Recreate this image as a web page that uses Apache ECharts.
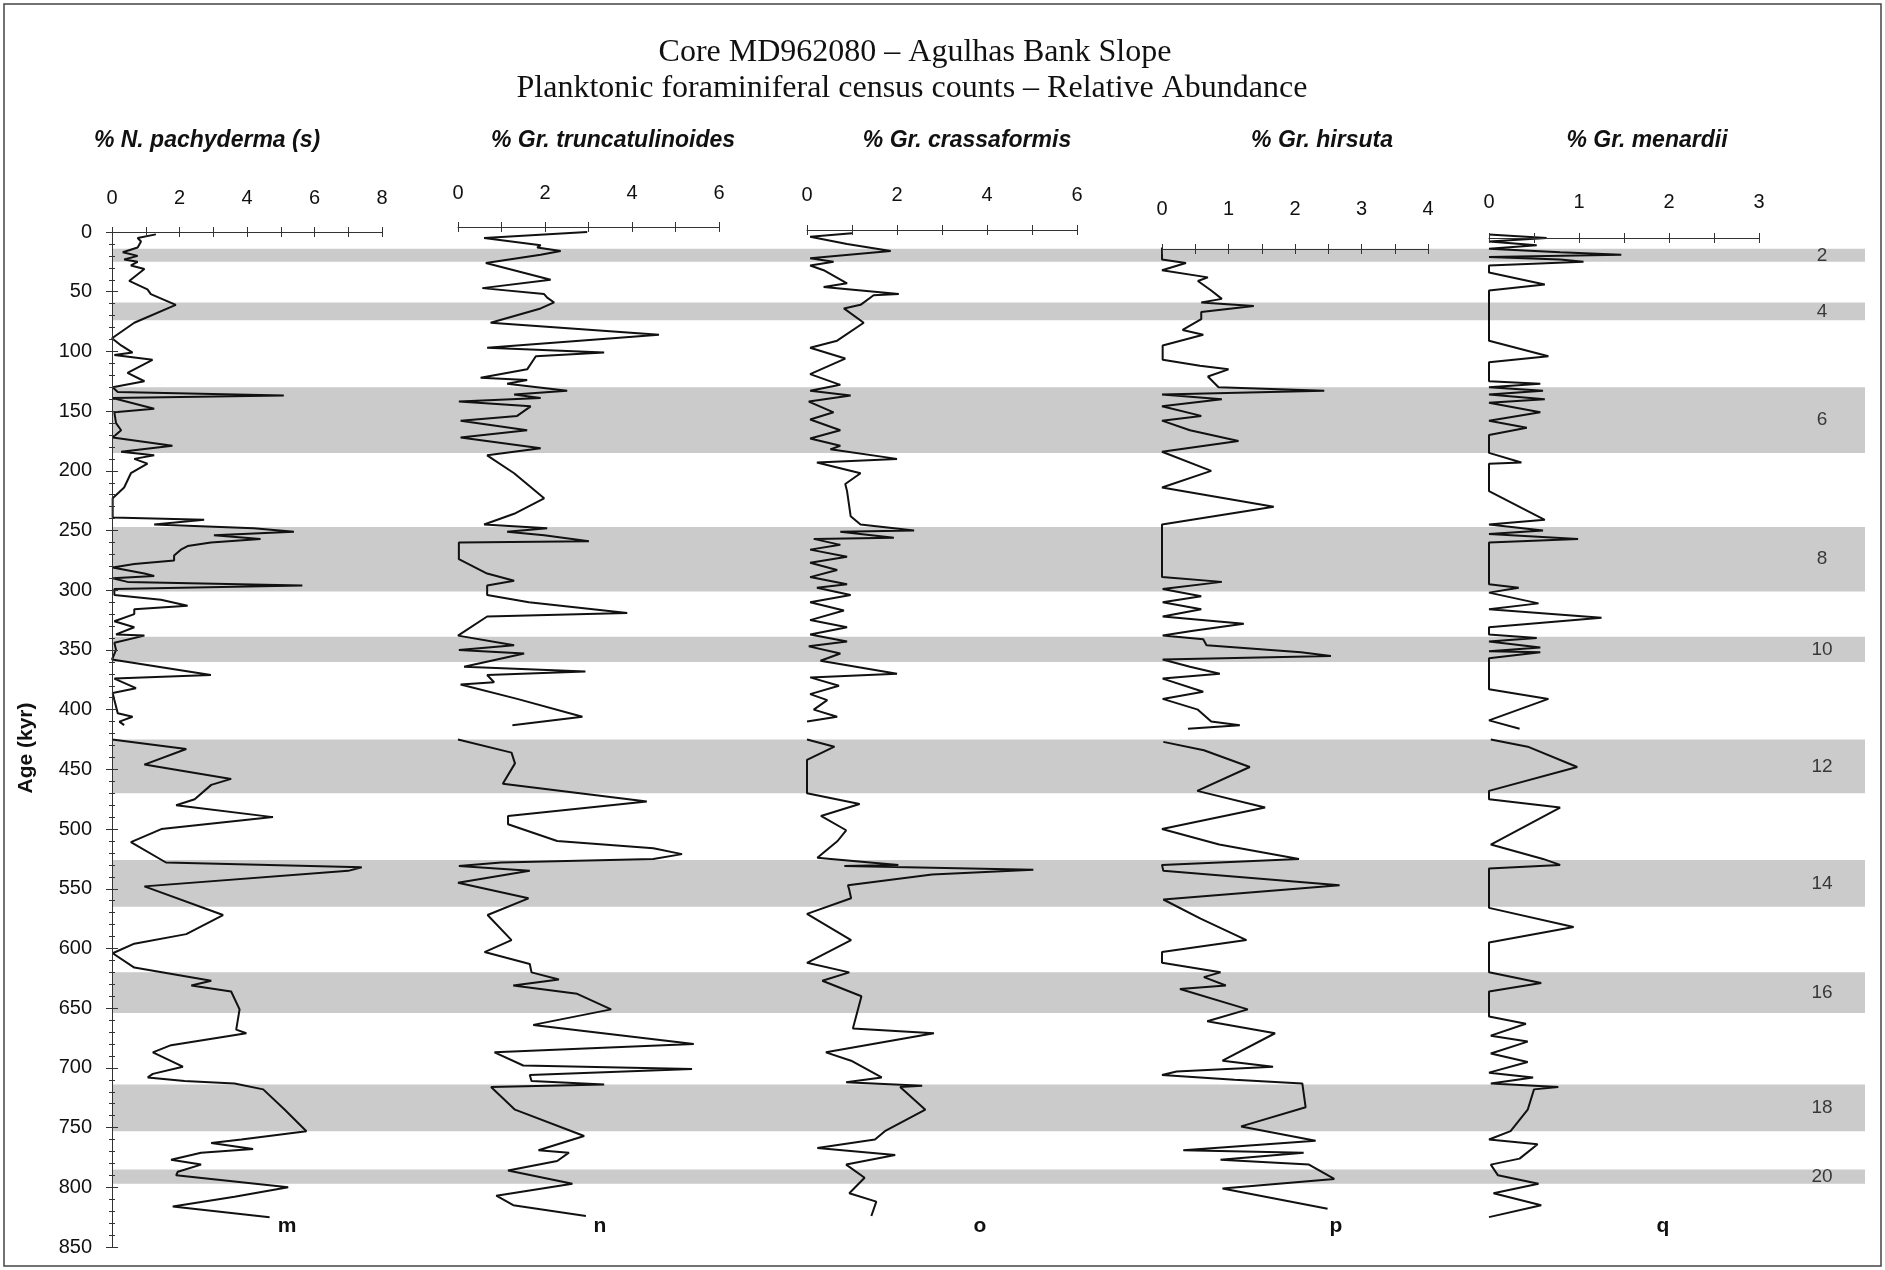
<!DOCTYPE html>
<html><head><meta charset="utf-8">
<script src="https://cdn.jsdelivr.net/npm/echarts/dist/echarts.min.js"></script>
<style>html,body{margin:0;padding:0;background:#fff}#c{width:1885px;height:1270px}</style>
</head><body><div id="c"></div>
<script>
// ---- data: [age (kyr), relative abundance (%)]; null = gap in the record ----
const pachyderma = [[2,1.30],[5,0.76],[8,0.86],[13,0.76],[17,0.32],[20,0.76],[23,0.36],[25,0.76],[28,0.56],[31,0.96],[41,0.51],[48,1.05],[52,1.15],[61,1.89],[76,0.66],[89,0],[95,0.27],[101,0.61],[103,0.07],[107,1.2],[118,0.46],[125,0.96],[130,0.02],[134,0.17],[137,5.09],[139,0.02],[148,1.25],[151,0.07],[160,0.12],[166,0.27],[172,0.02],[179,1.79],[184,0.27],[187,1.25],[190,0.66],[194,1.05],[202,0.56],[214,0.36],[223,0.02],[239,0.02],[241,2.73],[245,1.25],[248,4.2],[251,5.39],[254,3.02],[257,4.4],[260,2.93],[263,2.24],[266,2.04],[271,1.84],[275,1.84],[278,0.66],[281,0.02],[286,0.96],[288,1.25],[290,0.02],[293,0.46],[296,5.64],[299,0.07],[304,0.07],[308,1.45],[313,2.24],[316,0.66],[320,0.66],[326,0.07],[331,0.66],[337,0.12],[338,0.96],[344,0.07],[350,0.12],[358,0],[371,2.93],[374,0.07],[382,0.71],[386,0.02],[392,0.07],[403,0.17],[406,0.61],[410,0.22],[413,0.36],null,[425,0],[433,2.2],[446,0.96],[458,3.53],[463,2.94],[475,2.45],[480,1.9],[490,4.77],[500,1.46],[511,0.56],[528,1.6],[532,7.4],[535,7.0],[548,0.96],[572,3.29],[588,2.2],[596,0.66],[604,0.02],[616,0.66],[627,2.94],[631,2.35],[636,3.53],[651,3.78],[668,3.68],[671,3.98],[681,1.75],[687,1.21],[699,2.1],[705,1.21],[708,1.06],[711,2.15],[713,3.63],[718,4.48],[735,5.12],[753,5.76],[760,3.83],[763,2.94],[768,4.18],[771,2.64],[777,1.75],[781,2.64],[787,1.95],[790,1.9],[800,5.22],[808,3.63],[816,1.8],[825,4.67]];
const truncatulinoides = [[0,2.97],[5,0.6],[11,1.9],[13,1.82],[16,2.36],[19,1.9],[26,0.64],[40,2.13],[47,0.56],[52,1.98],[55,2.05],[59,2.21],[64,1.9],[76,0.75],[86,4.62],[97,0.67],[101,3.36],[104,1.79],[115,1.59],[122,0.52],[124,1.59],[127,1.13],[133,2.51],[136,1.29],[139,1.9],[142,0.02],[146,1.67],[154,1.36],[158,0.06],[166,1.59],[172,0.06],[181,1.9],[187,0.67],[202,1.29],[223,1.98],[236,1.29],[245,0.6],[248,2.05],[251,1.13],[254,1.98],[259,3.01],[260,0.02],[274,0.02],[286,0.67],[292,1.29],[296,0.67],[304,0.67],[310,1.63],[319,3.89],[322,0.67],[338,0],[346,1.29],[350,0.02],[353,1.52],[364,0.14],[368,2.93],[371,0.67],[377,0.83],[379,0.06],[391,1.36],[406,2.86],[413,1.25],null,[425,0],[436,1.23],[445,1.31],[462,1.03],[477,4.34],[489,1.15],[496,1.15],[510,2.28],[516,4.49],[521,5.15],[525,4.49],[528,0.99],[531,0.02],[535,1.65],[545,0],[558,1.62],[572,0.68],[593,1.23],[603,0.61],[613,1.65],[620,1.69],[626,2.32],[631,1.27],[638,2.74],[651,3.52],[664,1.73],[680,5.42],[687,0.84],[698,1.5],[701,5.38],[706,1.65],[711,1.69],[714,3.36],[716,0.76],[735,1.31],[757,2.9],[769,1.85],[771,2.55],[778,2.28],[786,1.15],[797,2.63],[807,0.88],[815,1.27],[824,2.94]];
const crassaformis = [[1,1.0],[4,0.07],[10,0.89],[16,1.86],[22,0.07],[25,0.59],[28,0.07],[32,0.37],[43,0.89],[46,0.37],[52,2.04],[53,1.48],[61,1.19],[64,0.82],[76,1.26],[91,0.67],[97,0.07],[106,0.85],[119,0.07],[128,0.74],[133,0.07],[137,0.97],[142,0.04],[151,0.59],[157,0.07],[166,0.74],[173,0.07],[179,0.74],[182,0.52],[190,2.0],[193,0.22],[202,1.19],[211,0.85],[217,0.89],[238,0.97],[245,1.19],[250,2.38],[251,0.74],[256,1.93],[257,0.15],[262,0.74],[266,0.07],[272,0.89],[277,0.07],[283,0.67],[289,0.07],[295,0.89],[298,0.22],[304,0.97],[310,0.07],[317,0.82],[325,0.07],[331,0.89],[337,0.07],[343,0.89],[347,0.04],[353,0.74],[359,0.3],[370,2.0],[373,0.07],[380,0.71],[387,0.07],[392,0.45],[400,0.15],[406,0.67],[410,0],null,[425,0],[431,0.61],[442,0],[470,0],[479,1.17],[489,0.31],[501,0.87],[510,0.68],[524,0.23],[525,0.53],[530,2.03],[531,0.83],[534,5.03],[538,2.78],[547,0.91],[551,0.94],[558,0.98],[571,0],[593,0.98],[612,0],[620,0.94],[627,0.34],[640,1.21],[667,1.02],[671,2.82],[687,0.42],[694,0.98],[708,1.66],[712,0.87],[715,2.56],[716,2.07],[735,2.63],[753,1.73],[760,1.51],[767,0.23],[773,1.96],[781,0.87],[792,1.28],[805,0.94],[812,1.54],[824,1.43]];
const hirsuta = [[13,0],[23,0],[26,0.36],[32,0],[38,0.69],[41,0.54],[49,0.74],[56,0.9],[59,0.59],[62,1.38],[67,0.59],[73,0.59],[82,0.31],[86,0.62],[95,0.01],[107,0.01],[112,0.57],[115,1.0],[121,0.69],[130,0.85],[133,2.44],[136,0],[140,0.9],[146,0],[154,0.59],[158,0],[166,0.42],[175,1.15],[184,0],[200,0.74],[214,0],[230,1.68],[245,0],[289,0],[293,0.9],[299,0.01],[305,0.59],[310,0.01],[316,0.59],[322,0.01],[328,1.23],[334,0.47],[338,0.01],[341,0.62],[346,0.67],[352,2.09],[355,2.54],[358,0.01],[364,0.42],[370,0.87],[374,0.01],[385,0.62],[391,0.01],[400,0.54],[410,0.74],[413,1.17],[416,0.39],null,[427,0.02],[434,0.63],[448,1.32],[468,0.53],[482,1.55],[500,0],[513,0.86],[525,2.06],[530,0],[535,0.02],[547,2.67],[559,0.02],[575,0.58],[593,1.27],[603,0],[612,0],[620,0.88],[624,0.63],[631,0.96],[634,0.27],[651,1.29],[661,0.68],[671,1.7],[694,0.91],[699,1.67],[703,0.22],[706,0],[710,1.09],[713,2.11],[733,2.16],[749,1.19],[761,2.31],[769,0.32],[771,2.13],[777,0.88],[781,2.21],[793,2.59],[801,0.91],[818,2.49]];
const menardii = [[2,0],[5,0.64],[8,0],[11,0.53],[14,0],[17,0.79],[19,1.47],[21,0],[23,0.79],[25,1.05],[28,0],[34,0],[44,0.62],[49,0],[91,0],[104,0.66],[109,0],[125,0],[127,0.57],[130,0],[133,0.6],[136,0],[140,0.62],[143,0],[151,0.57],[158,0],[164,0.42],[170,0],[185,0],[193,0.36],[194,0],[217,0],[241,0.62],[245,0],[250,0.6],[253,0],[257,0.99],[260,0],[295,0],[298,0.33],[302,0],[311,0.55],[316,0],[323,1.25],[331,0],[337,0],[340,0.53],[343,0],[348,0.57],[351,0],[352,0.57],[357,0],[383,0],[391,0.66],[409,0],[416,0.34],null,[425,0.02],[431,0.43],[448,0.98],[468,0],[475,0],[482,0.79],[513,0.02],[525,0.6],[530,0.79],[533,0],[566,0],[582,0.94],[595,0],[620,0],[629,0.58],[636,0],[657,0],[663,0.41],[673,0.02],[678,0.43],[688,0.02],[695,0.43],[704,0],[708,0.49],[713,0.02],[716,0.77],[718,0.5],[735,0.43],[753,0.24],[760,0],[764,0.54],[776,0.34],[781,0.02],[790,0.1],[797,0.55],[805,0.05],[815,0.58],[825,0]];

const misBands = [[14,25],[59,74],[130,185],[247,301],[339,360],[425,470],[526,565],[620,654],[714,753],[785,797]];
const misLabels = ['2','4','6','8','10','12','14','16','18','20'];
const panelTitles = ['% N. pachyderma (s)','% Gr. truncatulinoides','% Gr. crassaformis','% Gr. hirsuta','% Gr. menardii'];
const panelLetters = ['m','n','o','p','q'];
const axisMax = [8,6,6,4,3];
const tickStep = [1,1,1,0.5,0.5];
const labelStep = [2,2,2,1,1];
const ageMax = 850, ageStep = 50;
const titleLines = ['Core MD962080 \u2013 Agulhas Bank Slope','Planktonic foraminiferal census counts \u2013 Relative Abundance'];
const yName = 'Age (kyr)';

// ---- layout ----
const TOP = 232, BOT = 1247, H = BOT - TOP;
const panelLeft = [112,458,807,1162,1489];
const panelRight = [382,719,1077,1428,1759];
const axisShift = [0,5,2,-17,-6];
const labelMargin = [24,24,25,30,26];
const titleX = [207,613,967,1322,1647];
const letterX = [287,600,980,1336,1663];
const BAND_RIGHT = 1865;
const FONT = 'Liberation Sans';
const INK = '#111';
const seriesData = [pachyderma, truncatulinoides, crassaformis, hirsuta, menardii];

const grid = panelLeft.map((l,i)=>({left:l, top:TOP, width:panelRight[i]-l, height:H, containLabel:false}));
grid.push({left:panelLeft[0], top:TOP, width:BAND_RIGHT-panelLeft[0], height:H, containLabel:false});
const BANDGRID = grid.length-1;

const xAxis = [];
panelLeft.forEach((_,i)=>{
  const common = {gridIndex:i, type:'value', position:'top', min:0, max:axisMax[i], interval:tickStep[i], offset:axisShift[i], splitLine:{show:false}, z:5};
  xAxis.push(Object.assign({}, common, {
    axisLine:{show:true, onZero:false, lineStyle:{color:'#333', width:1}},
    axisTick:{show:true, length:5, lineStyle:{color:'#333', width:1}},
    axisLabel:{show:true, margin:labelMargin[i], fontSize:20, fontFamily:FONT, color:INK,
      formatter:v=>{const r=v/labelStep[i]; return Math.abs(r-Math.round(r))<1e-6 ? String(v) : '';}}
  }));
  xAxis.push(Object.assign({}, common, {
    axisLine:{show:false, onZero:false},
    axisTick:{show:true, inside:true, length:5, lineStyle:{color:'#333', width:1}},
    axisLabel:{show:false}
  }));
});
xAxis.push({gridIndex:BANDGRID, type:'value', min:0, max:1, show:false});
const BANDX = xAxis.length-1;

const yAxis = [];
panelLeft.forEach((_,i)=>{
  if (i===0) {
    yAxis.push({gridIndex:0, position:'left', type:'value', inverse:true, min:0, max:ageMax, interval:ageStep, z:5,
      axisLine:{show:true, onZero:false, lineStyle:{color:'#333', width:1}},
      axisTick:{show:true, length:6, lineStyle:{color:'#333'}},
      minorTick:{show:true, splitNumber:5, length:3, lineStyle:{color:'#333'}},
      axisLabel:{margin:20, fontSize:20, fontFamily:FONT, color:INK},
      splitLine:{show:false}, minorSplitLine:{show:false}});
  } else {
    yAxis.push({gridIndex:i, type:'value', inverse:true, min:0, max:ageMax, show:false});
  }
});
yAxis.push({gridIndex:BANDGRID, type:'value', inverse:true, min:0, max:ageMax, show:false});
const BANDY = yAxis.length-1;
yAxis.push({gridIndex:0, position:'left', offset:0, type:'value', inverse:true, min:0, max:ageMax, interval:ageStep, z:5,
  axisLine:{show:false, onZero:false},
  axisTick:{show:true, inside:true, length:6, lineStyle:{color:'#333'}},
  minorTick:{show:true, splitNumber:5, length:3, lineStyle:{color:'#333'}},
  axisLabel:{show:false}, splitLine:{show:false}, minorSplitLine:{show:false}});

const series = [];
series.push({type:'line', xAxisIndex:BANDX, yAxisIndex:BANDY, data:[], silent:true, z:1,
  markArea:{silent:true, itemStyle:{color:'#cbcbcb'},
    data: misBands.map(b=>[{yAxis:b[0]},{yAxis:b[1]}])}});
series.push({type:'scatter', xAxisIndex:BANDX, yAxisIndex:BANDY, silent:true, z:4,
  symbolSize:1, itemStyle:{color:'rgba(0,0,0,0)'},
  label:{show:true, position:'inside', fontSize:19, fontFamily:FONT, color:INK, formatter:p=>misLabels[p.dataIndex]},
  data: misBands.map(b=>[(1822-panelLeft[0])/(BAND_RIGHT-panelLeft[0]) , (b[0]+b[1])/2])});
seriesData.forEach((d,i)=>{
  series.push({type:'line', xAxisIndex:2*i, yAxisIndex:i, z:3, silent:true, showSymbol:false,
    connectNulls:false, clip:false,
    lineStyle:{color:INK, width:2},
    data: d.map(p=> p ? [p[1], p[0]] : [null, null])});
});

const graphic = [
  {type:'rect', shape:{x:4, y:4, width:1877, height:1262}, style:{fill:'none', stroke:'#444', lineWidth:1.5}, z:10},
  {type:'text', x:915, y:53, style:{text:titleLines[0], font:'32px "Liberation Serif"', fill:INK, textAlign:'center', textVerticalAlign:'middle'}},
  {type:'text', x:912, y:89, style:{text:titleLines[1], font:'32px "Liberation Serif"', fill:INK, textAlign:'center', textVerticalAlign:'middle'}},
  {type:'text', x:26, y:748, rotation:Math.PI/2, style:{text:yName, font:'bold 21px "Liberation Sans"', fill:INK, textAlign:'center', textVerticalAlign:'middle'}}
];
panelTitles.forEach((t,i)=>graphic.push({type:'text', x:titleX[i], y:141,
  style:{text:t, font:'italic bold 23px "Liberation Sans"', fill:INK, textAlign:'center', textVerticalAlign:'middle'}}));
panelLetters.forEach((t,i)=>graphic.push({type:'text', x:letterX[i], y:1226,
  style:{text:t, font:'bold 21px "Liberation Sans"', fill:INK, textAlign:'center', textVerticalAlign:'middle'}}));

const chart = echarts.init(document.getElementById('c'), null, {renderer:'canvas', width:1885, height:1270});
chart.setOption({animation:false, backgroundColor:'#fff', grid, xAxis, yAxis, series, graphic});
</script></body></html>
